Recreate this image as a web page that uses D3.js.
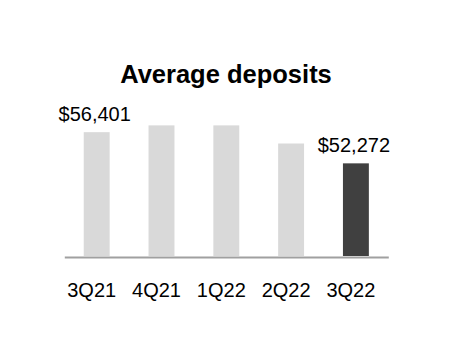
<!DOCTYPE html>
<html>
<head>
<meta charset="utf-8">
<script src="https://cdn.jsdelivr.net/npm/d3@7"></script>
<style>
  html, body { margin: 0; padding: 0; background: #fff; }
  svg { display: block; font-family: "Liberation Sans", Arial, sans-serif; }
</style>
</head>
<body>
<svg id="chart" width="452" height="360"></svg>
<script>
// Quarterly average deposits ($ millions)
const quarters = ["3Q21", "4Q21", "1Q22", "2Q22", "3Q22"];
const deposits = [56401, 57300, 57300, 54900, 52272];
// Only the first and latest quarters carry a value label
const labelled = [true, false, false, false, true];
const title = "Average deposits";

const svg = d3.select("#chart");

const x = d3.scaleBand()
  .domain(quarters)
  .range([64.3, 388.3])
  .paddingInner(0.6)
  .paddingOuter(0.3);

const y = d3.scaleLinear()
  .domain([40000, 60000])
  .range([256, 105]);

const data = quarters.map((q, i) => ({ q, v: deposits[i], label: labelled[i], last: i === quarters.length - 1 }));

// Title
svg.append("text")
  .attr("x", 226)
  .attr("y", 83)
  .attr("text-anchor", "middle")
  .attr("font-size", 25.5)
  .attr("font-weight", "bold")
  .attr("fill", "#000")
  .text(title);

// Bars
svg.append("g")
  .selectAll("rect")
  .data(data)
  .join("rect")
  .attr("x", d => x(d.q))
  .attr("y", d => y(d.v))
  .attr("width", x.bandwidth())
  .attr("height", d => y.range()[0] - y(d.v))
  .attr("fill", d => d.last ? "#404040" : "#d9d9d9");

// Value labels
const fmt = d3.format("$,");
svg.append("g")
  .selectAll("text")
  .data(data.filter(d => d.label))
  .join("text")
  .attr("x", d => x(d.q) + x.bandwidth() / 2 - 2)
  .attr("y", d => y(d.v) - 11.5)
  .attr("text-anchor", "middle")
  .attr("font-size", 20)
  .attr("fill", "#000")
  .text(d => fmt(d.v));

// Category axis
const axis = svg.append("g")
  .attr("transform", "translate(0,257)")
  .call(d3.axisBottom(x).tickSize(0).tickSizeOuter(0));

axis.select(".domain")
  .attr("stroke", "#a0a0a0")
  .attr("stroke-width", 2);

axis.selectAll(".tick text")
  .attr("font-family", "Liberation Sans, Arial, sans-serif")
  .attr("font-size", 20)
  .attr("fill", "#000")
  .attr("dx", -5)
  .attr("dy", 0)
  .attr("y", 39.5);
</script>
</body>
</html>
